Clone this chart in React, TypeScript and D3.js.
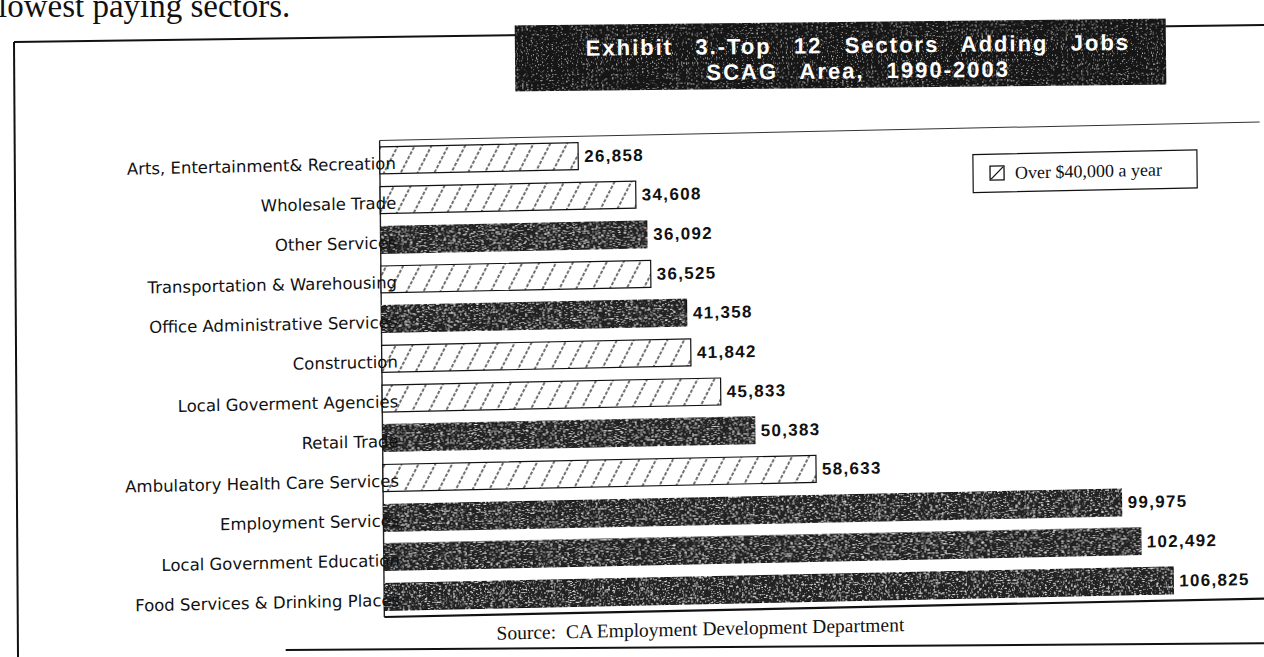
import React from "react";
import * as d3 from "d3";

const categories = [
  "Arts, Entertainment& Recreation",
  "Wholesale Trade",
  "Other Services",
  "Transportation & Warehousing",
  "Office Administrative Services",
  "Construction",
  "Local Goverment Agencies",
  "Retail Trade",
  "Ambulatory Health Care Services",
  "Employment Services",
  "Local Government Education",
  "Food Services & Drinking Places",
];
const jobsAdded = [26858, 34608, 36092, 36525, 41358, 41842, 45833, 50383, 58633, 99975, 102492, 106825];
const over40k = [true, true, false, true, false, true, true, false, true, false, false, false];
const titleLines = ["Exhibit  3.-Top  12  Sectors  Adding  Jobs", "SCAG  Area,  1990-2003"];
const legendLabel = "Over $40,000 a year";
const sourceNote = "Source:  CA Employment Development Department";
const pageText = "lowest paying sectors.";

export default function App() {
  const W = 1264;
  const H = 657;
  const x = d3.scaleLinear().domain([0, d3.max(jobsAdded) as number]).range([382, 1171]);
  const y = d3
    .scaleBand<string>()
    .domain(categories)
    .range([140.5, 617])
    .paddingInner(0.32)
    .paddingOuter(0.16);
  const fmt = d3.format(",");
  const bw = y.bandwidth();
  const skew = "matrix(1,-0.021,0.01,1,-3.8,8.02)";

  return (
    <svg width={W} height={H} style={{ position: "absolute", left: 0, top: 0, background: "#fff" }}>
      <defs>
        <pattern id="hatch" patternUnits="userSpaceOnUse" width={15} height={10} patternTransform="rotate(28)">
          <rect width={15} height={10} fill="#fff" />
          <line x1={2} y1={0} x2={2} y2={10} stroke="#111" strokeWidth={1.2} strokeDasharray="3.5,1.5" />
        </pattern>
        <filter id="grain" x="0" y="0" width="100%" height="100%">
          <feTurbulence type="fractalNoise" baseFrequency="0.35 0.9" numOctaves={2} seed={4} result="n" />
          <feColorMatrix
            in="n"
            type="matrix"
            values="0 0 0 0 1  0 0 0 0 1  0 0 0 0 1  3.2 0 0 0 -1.8"
            result="sp"
          />
          <feComposite in="sp" in2="SourceGraphic" operator="in" result="spc" />
          <feMerge>
            <feMergeNode in="SourceGraphic" />
            <feMergeNode in="spc" />
          </feMerge>
        </filter>
        <filter id="grainT" x="0" y="0" width="100%" height="100%">
          <feTurbulence type="fractalNoise" baseFrequency="0.8" numOctaves={1} seed={9} result="n" />
          <feColorMatrix
            in="n"
            type="matrix"
            values="0 0 0 0 1  0 0 0 0 1  0 0 0 0 1  3 0 0 0 -1.85"
            result="sp"
          />
          <feComposite in="sp" in2="SourceGraphic" operator="in" result="spc" />
          <feMerge>
            <feMergeNode in="SourceGraphic" />
            <feMergeNode in="spc" />
          </feMerge>
        </filter>
      </defs>

      {/* scanned page context */}
      <text x={-2} y={17} fontFamily="'Liberation Serif', 'Times New Roman', serif" fontSize={33} fill="#111">
        {pageText}
      </text>
      <line x1={14} y1={42} x2={1264} y2={25} stroke="#111" strokeWidth={2} />
      <line x1={14} y1={42} x2={18} y2={657} stroke="#111" strokeWidth={2} />

      {/* title */}
      <g transform="rotate(-0.6, 840, 55)">
        <rect x={515} y={22} width={651} height={66} fill="#141414" filter="url(#grainT)" />
        <text
          textAnchor="middle"
          fontFamily="'Liberation Sans', Arial, sans-serif"
          fontWeight="bold"
          fontSize={22}
          letterSpacing={2}
          wordSpacing={3}
          fill="#fff"
          style={{ whiteSpace: "pre" }}
        >
          {titleLines.map((t, i) => (
            <tspan key={i} x={858} y={53 + i * 25.5}>
              {t}
            </tspan>
          ))}
        </text>
      </g>

      <g transform={skew}>
        {/* plot frame */}
        <line x1={x(0)} y1={140.5} x2={1262} y2={140.5} stroke="#333" strokeWidth={1} />
        <line x1={x(0)} y1={140.5} x2={x(0)} y2={617} stroke="#222" strokeWidth={1.4} />
        <line x1={x(0)} y1={617} x2={1275} y2={617} stroke="#111" strokeWidth={2.2} />

        {/* bars */}
        {categories.map((c, i) => (
          <rect
            key={c}
            x={x(0)}
            y={y(c) as number}
            width={x(jobsAdded[i]) - x(0)}
            height={bw}
            fill={over40k[i] ? "url(#hatch)" : "#232323"}
            stroke="#111"
            strokeWidth={1.2}
            filter={over40k[i] ? undefined : "url(#grain)"}
          />
        ))}

        {/* category labels (drawn over the bar starts, as in the scan) */}
        {categories.map((c) => (
          <text
            key={c}
            x={398}
            y={(y(c) as number) + bw / 2 + 9}
            textAnchor="end"
            fontFamily="'DejaVu Sans', Verdana, sans-serif"
            fontSize={16.5}
            fill="#111"
          >
            {c}
          </text>
        ))}

        {/* value labels */}
        {categories.map((c, i) => (
          <text
            key={c}
            x={x(jobsAdded[i]) + 6}
            y={(y(c) as number) + bw / 2 + 6}
            fontFamily="'Liberation Sans', Arial, sans-serif"
            fontWeight="bold"
            fontSize={17}
            letterSpacing={1.3}
            fill="#111"
          >
            {fmt(jobsAdded[i])}
          </text>
        ))}

        {/* legend */}
        <g transform="translate(975,167)">
          <rect x={0} y={0} width={224} height={38} fill="#fff" stroke="#111" strokeWidth={1.2} />
          <rect x={17} y={12} width={14} height={14} fill="#fff" stroke="#111" strokeWidth={1.3} />
          <line x1={18} y1={25} x2={30} y2={13} stroke="#111" strokeWidth={1.3} />
          <text
            x={42}
            y={25}
            fontFamily="'Liberation Serif', 'Times New Roman', serif"
            fontSize={18}
            fill="#111"
          >
            {legendLabel}
          </text>
        </g>

        {/* source */}
        <text
          x={494}
          y={642}
          fontFamily="'Liberation Serif', 'Times New Roman', serif"
          fontSize={19.5}
          fill="#111"
          style={{ whiteSpace: "pre" }}
        >
          {sourceNote}
        </text>
        <line x1={283} y1={648} x2={1280} y2={662} stroke="#111" strokeWidth={2} />
      </g>
    </svg>
  );
}
